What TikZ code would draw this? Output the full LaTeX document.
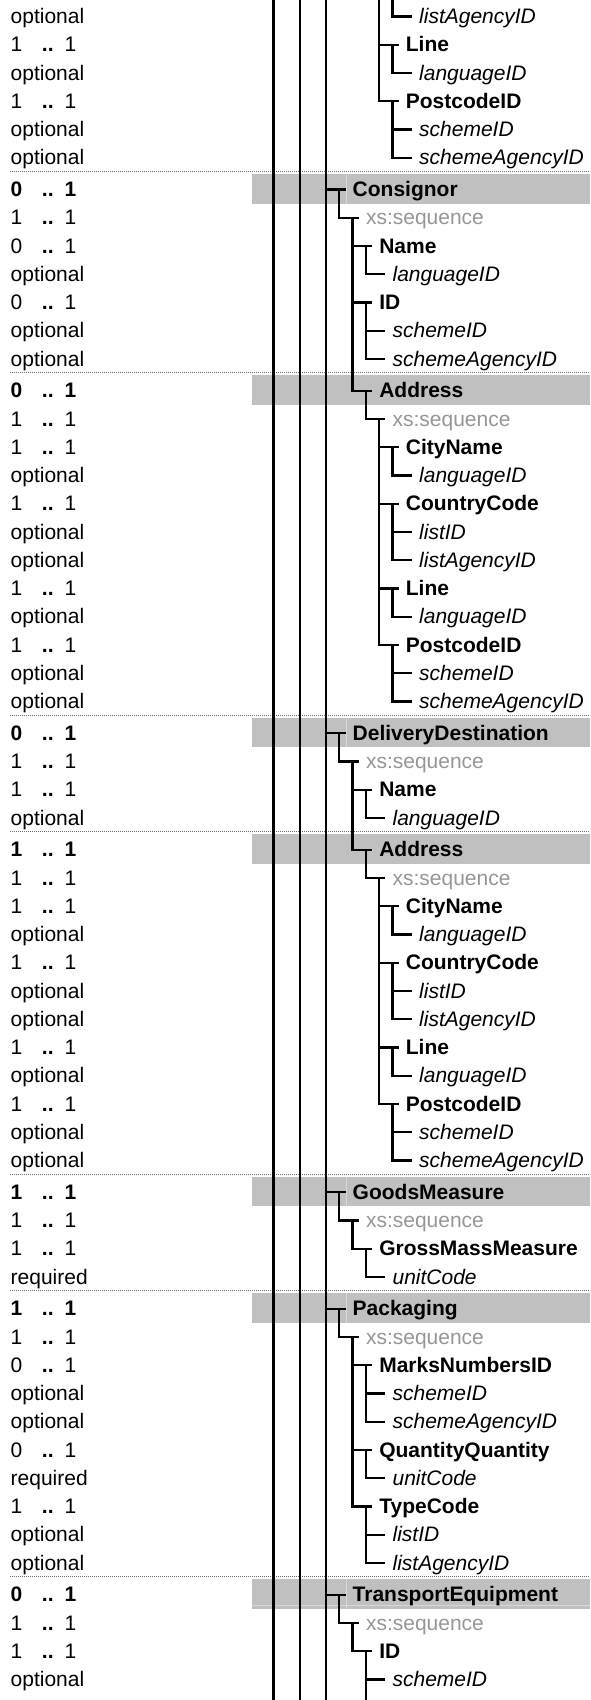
\documentclass[tikz,border=0pt]{standalone}
\usepackage{fontspec}
\setmainfont{Liberation Sans}
\usepackage{tikz}
\definecolor{bargrey}{RGB}{192,192,192}
\definecolor{seqgrey}{RGB}{150,150,150}
\definecolor{dotgrey}{RGB}{110,110,110}
\definecolor{divgrey}{RGB}{216,216,216}
\newcommand{\rowfont}{\fontsize{21}{25}\selectfont}
\newcommand{\cardpair}[2]{\makebox[31.3pt][l]{#1}\makebox[22.6pt][l]{\textbf{..}}#2}
\newcommand{\cardelem}[2]{\cardpair{#1}{#2}}
\newcommand{\cardseqnode}[2]{\cardpair{#1}{#2}}
\newcommand{\cardhead}[2]{\textbf{\cardpair{#1}{#2}}}
\newcommand{\cardattr}[2]{#1}
\tikzstyle{treetext} = [anchor=west, inner xsep=7pt, inner ysep=0pt, text height=16pt, text depth=2pt, xshift=19.5pt]
\tikzstyle{head} = [treetext, font=\rowfont\bfseries]
\tikzstyle{elem} = [treetext, font=\rowfont\bfseries]
\tikzstyle{seqnode} = [treetext, font=\rowfont, text=seqgrey]
\tikzstyle{attr} = [treetext, font=\rowfont\itshape]
\tikzstyle{cardtext} = [anchor=west, inner sep=0pt, text height=16pt, text depth=2pt, font=\rowfont]
\tikzstyle{tree} = [line width=2.3pt]
\tikzstyle{trunk} = [line width=2.8pt]
\tikzstyle{bar} = [fill=bargrey]
\tikzstyle{divider} = [draw=divgrey, line width=1pt]
\tikzstyle{dotrule} = [draw=dotgrey, line width=1.4pt, dash pattern=on 1pt off 1pt]

\begin{document}
\begin{tikzpicture}[x=1pt, y=-1pt]
    \useasboundingbox (0,0) rectangle (590,1700);
    % grey rows of the group elements
    \foreach \n/\s in {7/1,14/2,26/3,30/4,42/5,46/6,56/7} {
        \pgfmathsetmacro{\y}{16.5+(\n-1)*28.25+3.5*\s}
        \fill[bar] (252,\y-15.5) rectangle (590,\y+14);
        \draw[dotrule] (10,\y-18) -- (590,\y-18);
    }
    \foreach \n/\s in {7/1,26/3,42/5,46/6,56/7} {
        \pgfmathsetmacro{\y}{16.5+(\n-1)*28.25+3.5*\s}
        \draw[divider] (346,\y-15.5) -- (346,\y+14);
    }
    \draw[divider] (252,1605) -- (590,1605);
    % lines of the outer levels
    \foreach \x in {273.3,300,326}
        \draw[trunk] (\x,0) -- (\x,1700);
    \coordinate (anc) at (326,0);
    \coordinate (top4) at (379.2,0);
    \coordinate (top5) at (392.5,0);
    % rows: number / rules above / parent / kind / name / min / max
    \foreach \n/\s/\p/\kind/\txt/\lo/\hi in {
        1/0/top5/attr/listAgencyID/optional/-,
        2/0/top4/elem/Line/1/1,
        3/0/c2/attr/languageID/optional/-,
        4/0/top4/elem/PostcodeID/1/1,
        5/0/c4/attr/schemeID/optional/-,
        6/0/c4/attr/schemeAgencyID/optional/-,
        7/1/anc/head/Consignor/0/1,
        8/1/c7/seqnode/xs:sequence/1/1,
        9/1/c8/elem/Name/0/1,
        10/1/c9/attr/languageID/optional/-,
        11/1/c8/elem/ID/0/1,
        12/1/c11/attr/schemeID/optional/-,
        13/1/c11/attr/schemeAgencyID/optional/-,
        14/2/c8/head/Address/0/1,
        15/2/c14/seqnode/xs:sequence/1/1,
        16/2/c15/elem/CityName/1/1,
        17/2/c16/attr/languageID/optional/-,
        18/2/c15/elem/CountryCode/1/1,
        19/2/c18/attr/listID/optional/-,
        20/2/c18/attr/listAgencyID/optional/-,
        21/2/c15/elem/Line/1/1,
        22/2/c21/attr/languageID/optional/-,
        23/2/c15/elem/PostcodeID/1/1,
        24/2/c23/attr/schemeID/optional/-,
        25/2/c23/attr/schemeAgencyID/optional/-,
        26/3/anc/head/DeliveryDestination/0/1,
        27/3/c26/seqnode/xs:sequence/1/1,
        28/3/c27/elem/Name/1/1,
        29/3/c28/attr/languageID/optional/-,
        30/4/c27/head/Address/1/1,
        31/4/c30/seqnode/xs:sequence/1/1,
        32/4/c31/elem/CityName/1/1,
        33/4/c32/attr/languageID/optional/-,
        34/4/c31/elem/CountryCode/1/1,
        35/4/c34/attr/listID/optional/-,
        36/4/c34/attr/listAgencyID/optional/-,
        37/4/c31/elem/Line/1/1,
        38/4/c37/attr/languageID/optional/-,
        39/4/c31/elem/PostcodeID/1/1,
        40/4/c39/attr/schemeID/optional/-,
        41/4/c39/attr/schemeAgencyID/optional/-,
        42/5/anc/head/GoodsMeasure/1/1,
        43/5/c42/seqnode/xs:sequence/1/1,
        44/5/c43/elem/GrossMassMeasure/1/1,
        45/5/c44/attr/unitCode/required/-,
        46/6/anc/head/Packaging/1/1,
        47/6/c46/seqnode/xs:sequence/1/1,
        48/6/c47/elem/MarksNumbersID/0/1,
        49/6/c48/attr/schemeID/optional/-,
        50/6/c48/attr/schemeAgencyID/optional/-,
        51/6/c47/elem/QuantityQuantity/0/1,
        52/6/c51/attr/unitCode/required/-,
        53/6/c47/elem/TypeCode/1/1,
        54/6/c53/attr/listID/optional/-,
        55/6/c53/attr/listAgencyID/optional/-,
        56/7/anc/head/TransportEquipment/0/1,
        57/7/c56/seqnode/xs:sequence/1/1,
        58/7/c57/elem/ID/1/1,
        59/7/c58/attr/schemeID/optional/-} {
        \pgfmathsetmacro{\y}{16.5+(\n-1)*28.25+3.5*\s}
        \node[cardtext] (m\n) at (10.5,\y) {\csname card\kind\endcsname{\lo}{\hi}};
        \node[\kind] (t\n) at (\p |- 0,\y) {\txt};
        \coordinate (c\n) at ([xshift=-6.2pt]t\n.west);
        \draw[tree] (\p) |- (t\n.west);
    }
    \draw[tree] (c58) -- (c58 |- 0,1700);
\end{tikzpicture}
\end{document}
